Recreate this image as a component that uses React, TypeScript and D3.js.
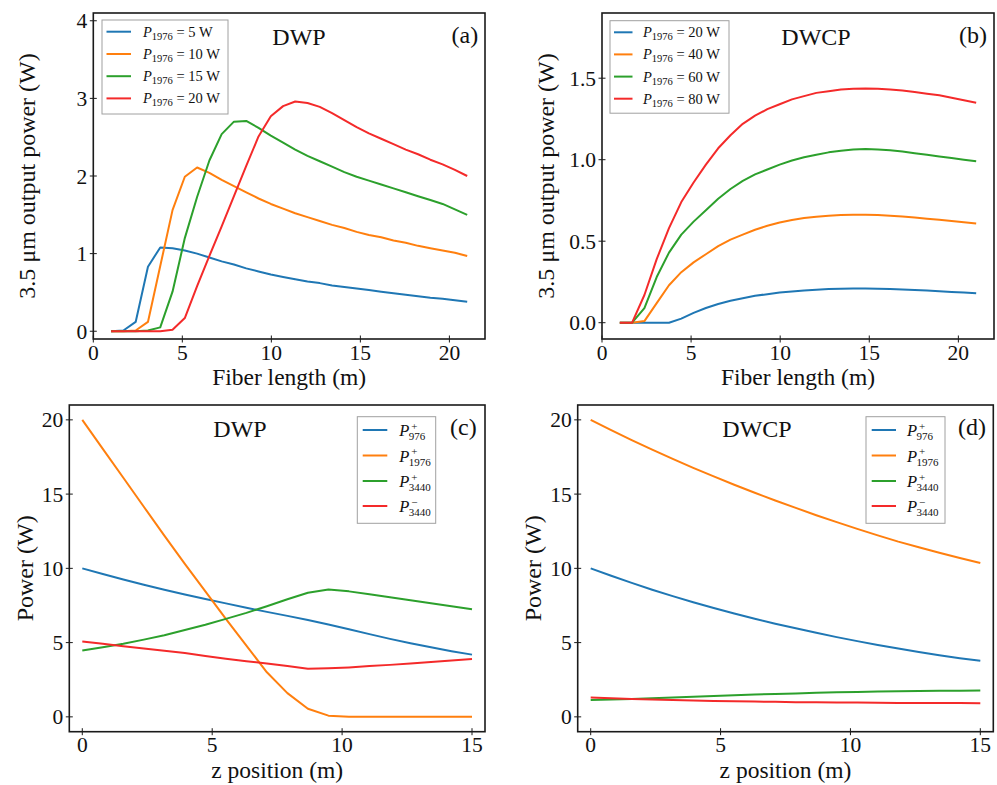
import React from 'react';
import * as d3 from 'd3';

// ---------- data ----------
const fiberLength = [1, 1.69, 2.38, 3.07, 3.76, 4.45, 5.14, 5.83, 6.52, 7.21, 7.9, 8.59, 9.28, 9.97, 10.66, 11.34, 12.03, 12.72, 13.41, 14.1, 14.79, 15.48, 16.17, 16.86, 17.55, 18.24, 18.93, 19.62, 20.31, 21];

const dwp5W = [0, 0.01, 0.12, 0.83, 1.08, 1.07, 1.04, 1.0, 0.95, 0.9, 0.86, 0.81, 0.77, 0.73, 0.7, 0.67, 0.64, 0.62, 0.59, 0.57, 0.55, 0.53, 0.51, 0.49, 0.47, 0.45, 0.43, 0.42, 0.4, 0.38];
const dwp10W = [0, 0, 0.01, 0.12, 0.84, 1.56, 1.99, 2.11, 2.04, 1.95, 1.87, 1.79, 1.71, 1.64, 1.58, 1.52, 1.47, 1.42, 1.37, 1.33, 1.28, 1.24, 1.21, 1.17, 1.14, 1.1, 1.07, 1.04, 1.01, 0.97];
const dwp15W = [0, 0, 0, 0.01, 0.05, 0.51, 1.2, 1.73, 2.2, 2.54, 2.7, 2.71, 2.62, 2.52, 2.43, 2.34, 2.26, 2.19, 2.12, 2.05, 1.99, 1.94, 1.89, 1.84, 1.79, 1.74, 1.69, 1.64, 1.57, 1.5];
const dwp20W = [0, 0, 0, 0, 0, 0.02, 0.17, 0.58, 0.97, 1.35, 1.74, 2.13, 2.51, 2.77, 2.9, 2.96, 2.94, 2.89, 2.81, 2.72, 2.63, 2.55, 2.48, 2.41, 2.34, 2.28, 2.21, 2.15, 2.08, 2.0];

const dwcp20W = [0, 0, 0, 0, 0, 0.025, 0.06, 0.09, 0.115, 0.135, 0.15, 0.165, 0.175, 0.185, 0.192, 0.198, 0.202, 0.206, 0.208, 0.21, 0.21, 0.209, 0.207, 0.204, 0.201, 0.197, 0.193, 0.189, 0.185, 0.18];
const dwcp40W = [0, 0, 0.01, 0.12, 0.23, 0.31, 0.37, 0.42, 0.47, 0.51, 0.54, 0.57, 0.595, 0.615, 0.63, 0.642, 0.65, 0.656, 0.66, 0.662, 0.662, 0.66, 0.656, 0.651, 0.645, 0.638, 0.631, 0.624, 0.616, 0.608];
const dwcp60W = [0, 0, 0.09, 0.28, 0.43, 0.54, 0.62, 0.69, 0.76, 0.82, 0.87, 0.91, 0.94, 0.97, 0.995, 1.015, 1.03, 1.045, 1.055, 1.062, 1.065, 1.063, 1.058, 1.05, 1.04, 1.03, 1.02, 1.01, 1.0, 0.99];
const dwcp80W = [0, 0, 0.17, 0.39, 0.58, 0.74, 0.86, 0.97, 1.07, 1.15, 1.22, 1.27, 1.31, 1.34, 1.37, 1.39, 1.41, 1.42, 1.43, 1.435, 1.437, 1.435, 1.43, 1.425, 1.415, 1.405, 1.395, 1.38, 1.365, 1.35];

const zPosition = [0, 0.789, 1.579, 2.368, 3.158, 3.947, 4.737, 5.526, 6.316, 7.105, 7.895, 8.684, 9.474, 10.263, 11.053, 11.842, 12.632, 13.421, 14.211, 15];

const dwpP976 = [10, 9.62, 9.25, 8.9, 8.56, 8.24, 7.94, 7.64, 7.35, 7.07, 6.8, 6.52, 6.22, 5.9, 5.57, 5.25, 4.95, 4.68, 4.42, 4.19];
const dwpP1976 = [20, 18.05, 16.1, 14.15, 12.2, 10.3, 8.45, 6.6, 4.8, 3.0, 1.6, 0.55, 0.08, 0.01, 0, 0, 0, 0, 0, 0];
const dwpP3440f = [4.47, 4.68, 4.92, 5.2, 5.5, 5.85, 6.2, 6.6, 7.0, 7.45, 7.92, 8.36, 8.58, 8.45, 8.25, 8.05, 7.85, 7.65, 7.45, 7.25];
const dwpP3440b = [5.08, 4.92, 4.76, 4.6, 4.45, 4.3, 4.1, 3.92, 3.75, 3.6, 3.43, 3.24, 3.27, 3.33, 3.42, 3.5, 3.6, 3.7, 3.8, 3.9];

const dwcpP976 = [10, 9.5, 9.02, 8.56, 8.13, 7.72, 7.33, 6.96, 6.61, 6.27, 5.96, 5.66, 5.37, 5.1, 4.84, 4.6, 4.37, 4.15, 3.95, 3.78];
const dwcpP1976 = [20, 19.31, 18.64, 18.0, 17.37, 16.77, 16.19, 15.63, 15.09, 14.57, 14.07, 13.58, 13.11, 12.66, 12.22, 11.8, 11.42, 11.05, 10.7, 10.36];
const dwcpP3440f = [1.13, 1.17, 1.21, 1.26, 1.31, 1.36, 1.41, 1.46, 1.5, 1.54, 1.58, 1.62, 1.65, 1.68, 1.7, 1.72, 1.74, 1.75, 1.76, 1.77];
const dwcpP3440b = [1.31, 1.26, 1.21, 1.17, 1.13, 1.1, 1.07, 1.05, 1.03, 1.01, 0.99, 0.98, 0.97, 0.96, 0.95, 0.94, 0.94, 0.93, 0.93, 0.92];

const pumpLabelsA = ['5', '10', '15', '20'];
const pumpLabelsB = ['20', '40', '60', '80'];
const waveLabels = [
  { sup: '+', sub: '976' },
  { sup: '+', sub: '1976' },
  { sup: '+', sub: '3440' },
  { sup: '\u2212', sub: '3440' },
];

const lengthTicks = [0, 5, 10, 15, 20];
const zTicks = [0, 5, 10, 15];
const powerTicksA = [0, 1, 2, 3, 4];
const powerTicksB = [0, 0.5, 1.0, 1.5];
const powerTicksCD = [0, 5, 10, 15, 20];

const COLORS = ['#1f77b4', '#ff7f0e', '#2ca02c', '#f42a2a'];
const FONT = "'Liberation Serif', 'Times New Roman', Times, serif";

type Box = { l: number; r: number; t: number; b: number };

interface PanelProps {
  box: Box;
  xDomain: [number, number];
  yDomain: [number, number];
  xTicks: number[];
  yTicks: number[];
  yFmt: (v: number) => string;
  xs: number[];
  series: number[][];
  xLabel: string;
  yLabel: string;
  yLabelX: number;
  title: string;
  titleX: number;
  titleY: number;
  tag: string;
  tagX: number;
  tagY: number;
  legend: React.ReactNode;
}

function Panel(p: PanelProps) {
  const { box } = p;
  const x = d3.scaleLinear().domain(p.xDomain).range([box.l, box.r]);
  const y = d3.scaleLinear().domain(p.yDomain).range([box.b, box.t]);
  const line = d3
    .line<number>()
    .x((_, i) => x(p.xs[i]))
    .y((d) => y(d));
  const tl = 3.5;
  return (
    <g fontFamily={FONT}>
      {p.series.map((s, i) => (
        <path key={i} d={line(s) || ''} fill="none" stroke={COLORS[i]} strokeWidth={2} strokeLinejoin="round" />
      ))}
      {p.xTicks.map((t) => (
        <g key={'x' + t}>
          <line x1={x(t)} x2={x(t)} y1={box.b - tl} y2={box.b + tl} stroke="#1a1a1a" strokeWidth={1} />
          <text x={x(t)} y={box.b + 20.5} fontSize={21.5} textAnchor="middle" fill="#111">
            {t}
          </text>
        </g>
      ))}
      {p.yTicks.map((t) => (
        <g key={'y' + t}>
          <line x1={box.l - tl} x2={box.l + tl} y1={y(t)} y2={y(t)} stroke="#1a1a1a" strokeWidth={1} />
          <text x={box.l - 6} y={y(t) + 7.5} fontSize={21.5} textAnchor="end" fill="#111">
            {p.yFmt(t)}
          </text>
        </g>
      ))}
      <rect x={box.l} y={box.t} width={box.r - box.l} height={box.b - box.t} fill="none" stroke="#1a1a1a" strokeWidth={1.6} />
      <text x={(box.l + box.r) / 2} y={box.b + 46} fontSize={23.5} textAnchor="middle" fill="#111">
        {p.xLabel}
      </text>
      <text
        transform={`translate(${p.yLabelX},${(box.t + box.b) / 2}) rotate(-90)`}
        fontSize={24}
        textAnchor="middle"
        fill="#111"
      >
        {p.yLabel}
      </text>
      <text x={p.titleX} y={p.titleY} fontSize={24} textAnchor="middle" fill="#111">
        {p.title}
      </text>
      <text x={p.tagX} y={p.tagY} fontSize={24} fill="#111">
        {p.tag}
      </text>
      {p.legend}
    </g>
  );
}

function PumpLegend(props: { x0: number; y0: number; w: number; h: number; lx1: number; lx2: number; tx: number; rows: number[]; labels: string[] }) {
  const { x0, y0, w, h, lx1, lx2, tx, rows, labels } = props;
  return (
    <g fontFamily={FONT}>
      <rect x={x0} y={y0} width={w} height={h} fill="#fff" stroke="#a0a0a0" strokeWidth={1} />
      {labels.map((lab, i) => (
        <g key={i}>
          <line x1={lx1} x2={lx2} y1={rows[i]} y2={rows[i]} stroke={COLORS[i]} strokeWidth={2} />
          <text x={tx} y={rows[i] + 5} fontSize={14.5} fill="#111">
            <tspan fontStyle="italic">P</tspan>
            <tspan fontSize={10.5} dy={3}>1976</tspan>
            <tspan dy={-3}>{` = ${lab} W`}</tspan>
          </text>
        </g>
      ))}
    </g>
  );
}

function WaveLegend(props: { x0: number; y0: number; w: number; h: number; lx1: number; lx2: number; tx: number; rows: number[] }) {
  const { x0, y0, w, h, lx1, lx2, tx, rows } = props;
  return (
    <g fontFamily={FONT}>
      <rect x={x0} y={y0} width={w} height={h} fill="#fff" stroke="#a0a0a0" strokeWidth={1} />
      {waveLabels.map((lab, i) => (
        <g key={i}>
          <line x1={lx1} x2={lx2} y1={rows[i]} y2={rows[i]} stroke={COLORS[i]} strokeWidth={2} />
          <text x={tx} y={rows[i] + 6} fontSize={16.5} fontStyle="italic" fill="#111">P</text>
          <text x={tx + 12} y={rows[i] - 0.5} fontSize={11} fill="#111">{lab.sup}</text>
          <text x={tx + 9.5} y={rows[i] + 10} fontSize={11} fill="#111">{lab.sub}</text>
        </g>
      ))}
    </g>
  );
}

export default function App() {
  const boxA: Box = { l: 93.3, r: 485, t: 13, b: 339 };
  const boxB: Box = { l: 602, r: 994, t: 13, b: 339 };
  const boxC: Box = { l: 69.3, r: 485, t: 405, b: 731.7 };
  const boxD: Box = { l: 577.7, r: 993.3, t: 405, b: 731.7 };
  const fmtInt = (v: number) => d3.format('d')(v);
  const fmt1 = (v: number) => d3.format('.1f')(v);
  const ylab1 = '3.5 \u03bcm output power (W)';
  return (
    <svg width={997} height={785} style={{ position: 'absolute', left: 0, top: 0, background: '#fff' }}>
      <rect x={0} y={0} width={997} height={785} fill="#fff" />
      <Panel
        box={boxA}
        xDomain={[0, 22]}
        yDomain={[-0.1, 4.1]}
        xTicks={lengthTicks}
        yTicks={powerTicksA}
        yFmt={fmtInt}
        xs={fiberLength}
        series={[dwp5W, dwp10W, dwp15W, dwp20W]}
        xLabel="Fiber length (m)"
        yLabel={ylab1}
        yLabelX={35}
        title="DWP"
        titleX={299}
        titleY={45}
        tag="(a)"
        tagX={451.5}
        tagY={43}
        legend={<PumpLegend x0={102} y0={20} w={126} h={94} lx1={106.5} lx2={131} tx={143} rows={[31.7, 54, 76.2, 98.4]} labels={pumpLabelsA} />}
      />
      <Panel
        box={boxB}
        xDomain={[0, 22]}
        yDomain={[-0.1, 1.9]}
        xTicks={lengthTicks}
        yTicks={powerTicksB}
        yFmt={fmt1}
        xs={fiberLength}
        series={[dwcp20W, dwcp40W, dwcp60W, dwcp80W]}
        xLabel="Fiber length (m)"
        yLabel={ylab1}
        yLabelX={554}
        title="DWCP"
        titleX={816}
        titleY={45}
        tag="(b)"
        tagX={959}
        tagY={43}
        legend={<PumpLegend x0={610} y0={20.7} w={119} h={92.5} lx1={614} lx2={632.5} tx={643} rows={[32.3, 54.4, 76.6, 98.7]} labels={pumpLabelsB} />}
      />
      <Panel
        box={boxC}
        xDomain={[-0.5, 15.5]}
        yDomain={[-1, 21]}
        xTicks={zTicks}
        yTicks={powerTicksCD}
        yFmt={fmtInt}
        xs={zPosition}
        series={[dwpP976, dwpP1976, dwpP3440f, dwpP3440b]}
        xLabel="z position (m)"
        yLabel="Power (W)"
        yLabelX={33}
        title="DWP"
        titleX={240}
        titleY={437}
        tag="(c)"
        tagX={450}
        tagY={435}
        legend={<WaveLegend x0={357.3} y0={416.7} w={78.4} h={106.6} lx1={362.7} lx2={387.3} tx={399.3} rows={[430, 455.5, 481, 506]} />}
      />
      <Panel
        box={boxD}
        xDomain={[-0.5, 15.5]}
        yDomain={[-1, 21]}
        xTicks={zTicks}
        yTicks={powerTicksCD}
        yFmt={fmtInt}
        xs={zPosition}
        series={[dwcpP976, dwcpP1976, dwcpP3440f, dwcpP3440b]}
        xLabel="z position (m)"
        yLabel="Power (W)"
        yLabelX={541}
        title="DWCP"
        titleX={757}
        titleY={437}
        tag="(d)"
        tagX={958}
        tagY={435}
        legend={<WaveLegend x0={866} y0={416.7} w={79} h={106.6} lx1={871.7} lx2={896} tx={907} rows={[430, 455.5, 481, 506]} />}
      />
    </svg>
  );
}
